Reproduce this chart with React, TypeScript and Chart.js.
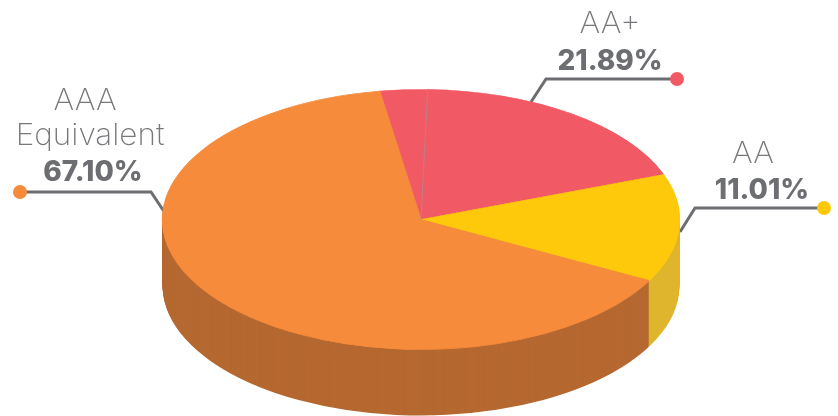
import React, { useEffect, useRef } from "react";
import { Chart, registerables } from "chart.js";

Chart.register(...registerables);

// Slices in drawing order, clockwise. AA+ is drawn in two parts in the reference.
const sliceNames = ["AA+ (left part)", "AA+", "AA", "AAA Equivalent"];
const sliceShares = [2.97, 18.97, 13.4, 64.66];
const sliceColors = ["#f15a65", "#f15a65", "#ffc90b", "#f68b3c"];
const sideColors = ["#a8504f", "#a8504f", "#dfb52e", "#b56830"];

const labelLines = [["AA+"], ["AA"], ["AAA", "Equivalent"]];
const labelPercents = ["21.89%", "11.01%", "67.10%"];
const labelColors = ["#f15a65", "#ffc90b", "#f68b3c"];

const W = 838;
const H = 416;
const CX = 421;
const CY = 219.5;
const RX = 258.5;
const RY = 130;
const DEPTH = 66;
const START_ANGLE = -9.2;

const LIGHT_FONT = '200 30px Inter, "Noto Sans", sans-serif';
const BOLD_FONT = '800 28px Inter, "Noto Sans", sans-serif';
const LIGHT_COLOR = "#77787b";
const BOLD_COLOR = "#6d6e71";
const LIGHT_STRETCH = 1.05;
const BOLD_STRETCH = 1.0;

const callouts = [
  {
    textX: [610],
    textY: [33],
    pctX: 610,
    pctY: 70,
    line: [[531, 102], [546, 79], [677, 79]],
  },
  {
    textX: [753],
    textY: [163],
    pctX: 762,
    pctY: 199,
    line: [[680, 232], [695, 208], [824, 208]],
  },
  {
    textX: [85, 90],
    textY: [110, 145],
    pctX: 93,
    pctY: 181,
    line: [[20, 192], [151, 192], [165, 213]],
  },
];

function stretchedText(ctx: any, text: string, x: number, y: number, sx: number) {
  ctx.save();
  ctx.translate(x, y);
  ctx.scale(sx, 1);
  ctx.fillText(text, 0, 0);
  ctx.restore();
}

const pie3d = {
  id: "pie3d",
  beforeDraw(chart: any) {
    const ctx = chart.ctx;
    ctx.save();
    ctx.fillStyle = "#ffffff";
    ctx.fillRect(0, 0, W, H);
    callouts.forEach((c, i) => {
      ctx.beginPath();
      c.line.forEach(([x, y], j) => (j ? ctx.lineTo(x, y) : ctx.moveTo(x, y)));
      ctx.strokeStyle = BOLD_COLOR;
      ctx.lineWidth = 3;
      ctx.lineJoin = "miter";
      ctx.stroke();
      const [dx, dy] = c.line[i === 2 ? 0 : 2];
      ctx.beginPath();
      ctx.arc(dx, dy, 7, 0, Math.PI * 2);
      ctx.fillStyle = labelColors[i];
      ctx.fill();
    });
    ctx.restore();
  },
  beforeDatasetsDraw(chart: any) {
    const ctx = chart.ctx;
    const arcs = chart.getDatasetMeta(0).data;
    const R = arcs[0].outerRadius;
    const ox = arcs[0].x;
    const oy = arcs[0].y;
    const place = (d: number) => {
      ctx.setTransform(1, 0, 0, 1, 0, 0);
      ctx.translate(CX, CY + d);
      ctx.scale(RX / R, RY / R);
      ctx.translate(-ox, -oy);
    };
    ctx.save();
    for (let d = DEPTH; d >= 1; d--) {
      place(d);
      arcs.forEach((arc: any, i: number) => {
        const original = arc.options;
        const o = Object.create(original);
        o.backgroundColor = sideColors[i];
        o.borderColor = sideColors[i];
        o.borderWidth = 0;
        arc.options = o;
        arc.draw(ctx);
        arc.options = original;
      });
    }
    place(0);
  },
  afterDatasetsDraw(chart: any) {
    const ctx = chart.ctx;
    ctx.restore();
    const first = chart.getDatasetMeta(0).data[0];
    ctx.save();
    ctx.beginPath();
    ctx.moveTo(CX, CY);
    ctx.lineTo(CX + RX * Math.cos(first.endAngle), CY + RY * Math.sin(first.endAngle));
    ctx.strokeStyle = "#a98a94";
    ctx.lineWidth = 0.8;
    ctx.stroke();
    ctx.restore();
  },
  afterDraw(chart: any) {
    const ctx = chart.ctx;
    ctx.save();
    ctx.textAlign = "center";
    ctx.textBaseline = "alphabetic";
    callouts.forEach((c, i) => {
      ctx.font = LIGHT_FONT;
      ctx.fillStyle = LIGHT_COLOR;
      labelLines[i].forEach((t, j) => stretchedText(ctx, t, c.textX[j], c.textY[j], LIGHT_STRETCH));
      ctx.font = BOLD_FONT;
      ctx.fillStyle = BOLD_COLOR;
      stretchedText(ctx, labelPercents[i], c.pctX, c.pctY, BOLD_STRETCH);
    });
    ctx.restore();
  },
};

export default function App() {
  const ref = useRef<HTMLCanvasElement>(null);
  useEffect(() => {
    document.body.style.margin = "0";
    const chart = new Chart(ref.current!, {
      type: "pie",
      data: {
        labels: sliceNames,
        datasets: [
          {
            data: sliceShares,
            backgroundColor: sliceColors,
            borderColor: sliceColors,
            borderWidth: 1,
            clip: false,
          } as any,
        ],
      },
      options: {
        responsive: false,
        animation: false,
        rotation: START_ANGLE,
        layout: { padding: 0 },
        plugins: { legend: { display: false }, tooltip: { enabled: false } },
      },
      plugins: [pie3d],
    });
    return () => chart.destroy();
  }, []);
  return <canvas ref={ref} width={W} height={H} style={{ display: "block" }} />;
}
